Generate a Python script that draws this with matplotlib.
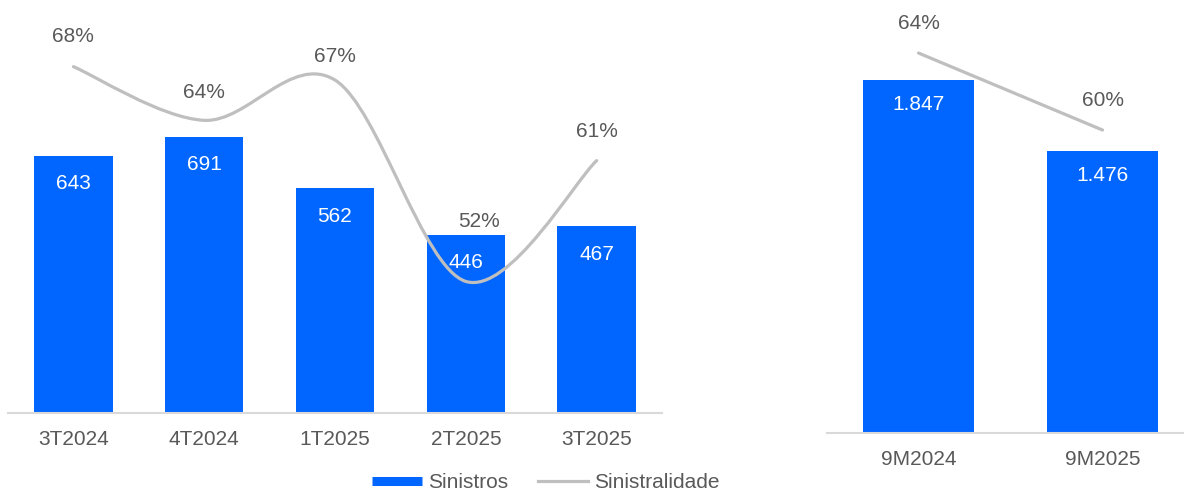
import matplotlib.pyplot as plt
from matplotlib.path import Path
from matplotlib.patches import PathPatch
from matplotlib.lines import Line2D

plt.rcParams['font.family'] = ['Liberation Sans', 'DejaVu Sans']

# Quarterly data
quarters = ['3T2024', '4T2024', '1T2025', '2T2025', '3T2025']
sinistros_q = [643, 691, 562, 446, 467]
sinistralidade_q = [68, 64, 67, 52, 61]

# Nine-month data
periods = ['9M2024', '9M2025']
sinistros_9m = [1847, 1476]
sinistralidade_9m = [64, 60]

bar_color = '#0066FF'
line_color = '#BFBFBF'
text_color = '#595959'
axis_color = '#D9D9D9'
fs = 15


def fmt_num(v):
    return f'{v:,}'.replace(',', '.')


def smooth_path(xs, ys):
    # Catmull-Rom style bezier, like a spreadsheet "smoothed line"
    n = len(xs)
    verts = [(xs[0], ys[0])]
    codes = [Path.MOVETO]
    for i in range(n - 1):
        i0 = max(i - 1, 0)
        i3 = min(i + 2, n - 1)
        c1 = (xs[i] + (xs[i + 1] - xs[i0]) / 6, ys[i] + (ys[i + 1] - ys[i0]) / 6)
        c2 = (xs[i + 1] - (xs[i3] - xs[i]) / 6, ys[i + 1] - (ys[i3] - ys[i]) / 6)
        verts += [c1, c2, (xs[i + 1], ys[i + 1])]
        codes += [Path.CURVE4] * 3
    return Path(verts, codes)


def style_axis(ax):
    for s in ['top', 'right', 'left']:
        ax.spines[s].set_visible(False)
    ax.spines['bottom'].set_color(axis_color)
    ax.spines['bottom'].set_linewidth(1.5)
    ax.set_yticks([])
    ax.tick_params(axis='x', length=0, pad=12, labelsize=fs, labelcolor=text_color)


fig = plt.figure(figsize=(11.84, 4.91), dpi=100)

# Left panel: quarters
ax1 = fig.add_axes([0.00676, 0.1589, 0.5524, 0.8147])
x1 = list(range(len(quarters)))
ax1.bar(x1, sinistros_q, width=0.6, color=bar_color, zorder=2)
ax1.set_xlim(-0.5, len(quarters) - 0.5)
ax1.set_ylim(0, 1000)
ax1.set_xticks(x1)
ax1.set_xticklabels(quarters)
style_axis(ax1)
for x, v in zip(x1, sinistros_q):
    ax1.annotate(fmt_num(v), (x, v), xytext=(0, -28), textcoords='offset pixels',
                 ha='center', va='center', color='white', fontsize=fs)

ax1b = ax1.twinx()
ax1b.set_ylim(42.2, 72.0)
ax1b.axis('off')
ax1b.add_patch(PathPatch(smooth_path(x1, sinistralidade_q), fill=False,
                         edgecolor=line_color, linewidth=2.3, capstyle='round'))
offsets = [(0, 30), (0, 28), (0, 24), (13, 60), (0, 29)]
for x, v, off in zip(x1, sinistralidade_q, offsets):
    ax1b.annotate(f'{v}%', (x, v), xytext=off, textcoords='offset pixels',
                  ha='center', va='center', color=text_color, fontsize=fs)

# Right panel: nine months
ax2 = fig.add_axes([0.6981, 0.1181, 0.3108, 0.8554])
x2 = list(range(len(periods)))
ax2.bar(x2, sinistros_9m, width=0.6, color=bar_color, zorder=2)
ax2.set_xlim(-0.5, len(periods) - 0.5)
ax2.set_ylim(0, 2197)
ax2.set_xticks(x2)
ax2.set_xticklabels(periods)
style_axis(ax2)
for x, v in zip(x2, sinistros_9m):
    ax2.annotate(fmt_num(v), (x, v), xytext=(0, -25), textcoords='offset pixels',
                 ha='center', va='center', color='white', fontsize=fs)

ax2b = ax2.twinx()
ax2b.set_ylim(44.26, 66.08)
ax2b.axis('off')
ax2b.plot(x2, sinistralidade_9m, color=line_color, linewidth=2.3, solid_capstyle='round')
for x, v in zip(x2, sinistralidade_9m):
    ax2b.annotate(f'{v}%', (x, v), xytext=(0, 30), textcoords='offset pixels',
                  ha='center', va='center', color=text_color, fontsize=fs)

# Legend
handles = [Line2D([], [], color=bar_color, linewidth=6.5, solid_capstyle='butt'),
           Line2D([], [], color=line_color, linewidth=2.3)]
fig.legend(handles, ['Sinistros', 'Sinistralidade'], loc='center',
           bbox_to_anchor=(0.461, 0.0163), ncol=2, frameon=False, fontsize=fs,
           labelcolor=text_color, handlelength=2.4, handletextpad=0.3,
           columnspacing=1.4)

fig.savefig('out.png', dpi=100)
